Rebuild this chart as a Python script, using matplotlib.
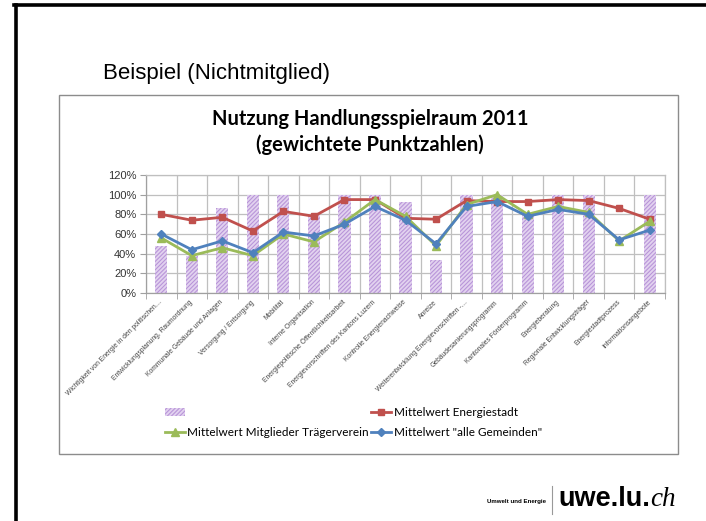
import matplotlib
matplotlib.use("Agg")
import matplotlib.pyplot as plt
from matplotlib.lines import Line2D
from matplotlib.patches import Rectangle, Patch
import numpy as np

# categories along the x axis
categories = [
    "Wichtigkeit von Energie in den politischen…",
    "Entwicklungsplanung, Raumordnung",
    "Kommunale Gebäude und Anlagen",
    "Versorgung / Entsorgung",
    "Mobilität",
    "Interne Organisation",
    "Energiepolitische Öffentlichkeitsarbeit",
    "Energievorschriften des Kantons Luzern",
    "Kontrolle Energienachweise",
    "Anreize",
    "Weiterentwicklung Energievorschriften -…",
    "Gebäudesanierungsprogramm",
    "Kantonales Förderprogramm",
    "Energieberatung",
    "Regionale Entwicklungsträger",
    "Energiestadtprozess",
    "Informationsangebote",
]

# the example community (bars), in percent
beispiel = [48, 38, 86, 100, 100, 79, 100, 100, 93, 34, 100, 100, 79, 100, 100, 0, 100]
# averages, in percent
energiestadt = [80, 74, 77, 63, 83, 78, 95, 95, 76, 75, 94, 93, 93, 95, 94, 86, 75]
traegerverein = [56, 38, 46, 38, 60, 52, 72, 95, 78, 48, 90, 100, 80, 88, 82, 53, 73]
alle_gemeinden = [60, 44, 53, 41, 62, 58, 70, 88, 74, 50, 88, 93, 78, 85, 80, 54, 64]

yticks = [0, 20, 40, 60, 80, 100, 120]

W, H = 706, 521


def fx(px):
    return px / W


def fy(py):
    return 1 - py / H


plt.rcParams["hatch.linewidth"] = 0.8

BAR_FACE = "#e2d2ef"
BAR_HATCH = "#b995d9"

fig = plt.figure(figsize=(W / 100, H / 100), dpi=100)

# slide frame
fig.add_artist(Line2D([fx(14), 1.0], [fy(5), fy(5)], color="black", lw=2.6))
fig.add_artist(Line2D([fx(16), fx(16)], [fy(5), 0.0], color="black", lw=2.6))

fig.text(fx(103), fy(73), "Beispiel (Nichtmitglied)", fontsize=16,
         family="Liberation Sans", va="center", ha="left")

# chart frame
fig.add_artist(Rectangle((fx(59), fy(454)), fx(678) - fx(59), fy(95) - fy(454),
                         transform=fig.transFigure, fill=False,
                         edgecolor="#8c8c8c", lw=1.0))

fig.text(fx(370), fy(119), "Nutzung Handlungsspielraum 2011", fontsize=14.5,
         family="Lato", weight="bold", ha="center", va="center")
fig.text(fx(370), fy(145), "(gewichtete Punktzahlen)", fontsize=14.5,
         family="Lato", weight="bold", ha="center", va="center")

ax = fig.add_axes([fx(146), fy(293), fx(665) - fx(146), fy(175) - fy(293)])
x = np.arange(len(categories))

bars = ax.bar(x, beispiel, width=0.4, facecolor=BAR_FACE, edgecolor=BAR_HATCH,
              hatch="////////", linewidth=0, zorder=2)
red, = ax.plot(x, energiestadt, color="#c0504d", lw=2.0, marker="s", ms=5,
               zorder=3)
green, = ax.plot(x, traegerverein, color="#9bbb59", lw=2.0, marker="^", ms=5.5,
                 zorder=4)
blue, = ax.plot(x, alle_gemeinden, color="#4f81bd", lw=2.0, marker="D", ms=4.5,
                zorder=5)

ax.set_xlim(-0.5, len(categories) - 0.5)
ax.set_ylim(0, 120)
ax.set_yticks(yticks)
ax.set_yticklabels([f"{v}%" for v in yticks], fontsize=8, family="Liberation Sans",
                   color="#333333")
ax.set_xticks(x)
ax.set_xticklabels(categories, rotation=45, ha="right", va="center",
                   rotation_mode="anchor", fontsize=4.9, family="Liberation Sans",
                   color="#444444")
ax.set_xticks(np.arange(len(categories) + 1) - 0.5, minor=True)
ax.tick_params(axis="x", which="major", length=0, pad=6)
ax.tick_params(axis="x", which="minor", length=4, color="#a0a0a0")
ax.tick_params(axis="y", length=4, color="#a0a0a0", pad=3)
ax.grid(axis="y", color="#bfbfbf", lw=0.9, zorder=0)
ax.grid(axis="x", which="minor", color="#bfbfbf", lw=0.9, zorder=0)
for s in ax.spines.values():
    s.set_color("#bfbfbf")
    s.set_linewidth(0.9)
ax.spines["left"].set_color("#a0a0a0")
ax.spines["bottom"].set_color("#a0a0a0")
ax.set_axisbelow(True)

# legend: two columns, bar entry has no text (as in the excel original)
bar_handle = Patch(facecolor=BAR_FACE, edgecolor=BAR_HATCH, hatch="////////", lw=0)
fig.legend([bar_handle, green, red, blue],
           ["", "Mittelwert Mitglieder Trägerverein",
            "Mittelwert Energiestadt", 'Mittelwert "alle Gemeinden"'],
           loc="upper left", bbox_to_anchor=(fx(165), fy(407)), ncol=2,
           frameon=False, borderpad=0, borderaxespad=0,
           handlelength=1.7, handletextpad=0.2, columnspacing=0.2,
           labelspacing=0.75, prop={"family": "Lato", "size": 8.5})

# logo bottom right
fig.text(fx(546), fy(501), "Umwelt und Energie", fontsize=4.4, weight="bold",
         family="Liberation Sans", ha="right", va="center")
fig.add_artist(Line2D([fx(552), fx(552)], [fy(514), fy(486)], color="#999999", lw=0.8))
uwe = fig.text(fx(558), fy(499), "uwe.lu.", fontsize=19.5, weight="bold",
               family="Liberation Sans", ha="left", va="center")
bb = uwe.get_window_extent(renderer=fig.canvas.get_renderer())
fig.text(bb.x1 / W + 0.001, fy(499), "ch", fontsize=19.5, style="italic",
         family="Liberation Serif", ha="left", va="center")

fig.savefig("out.png", dpi=100)
